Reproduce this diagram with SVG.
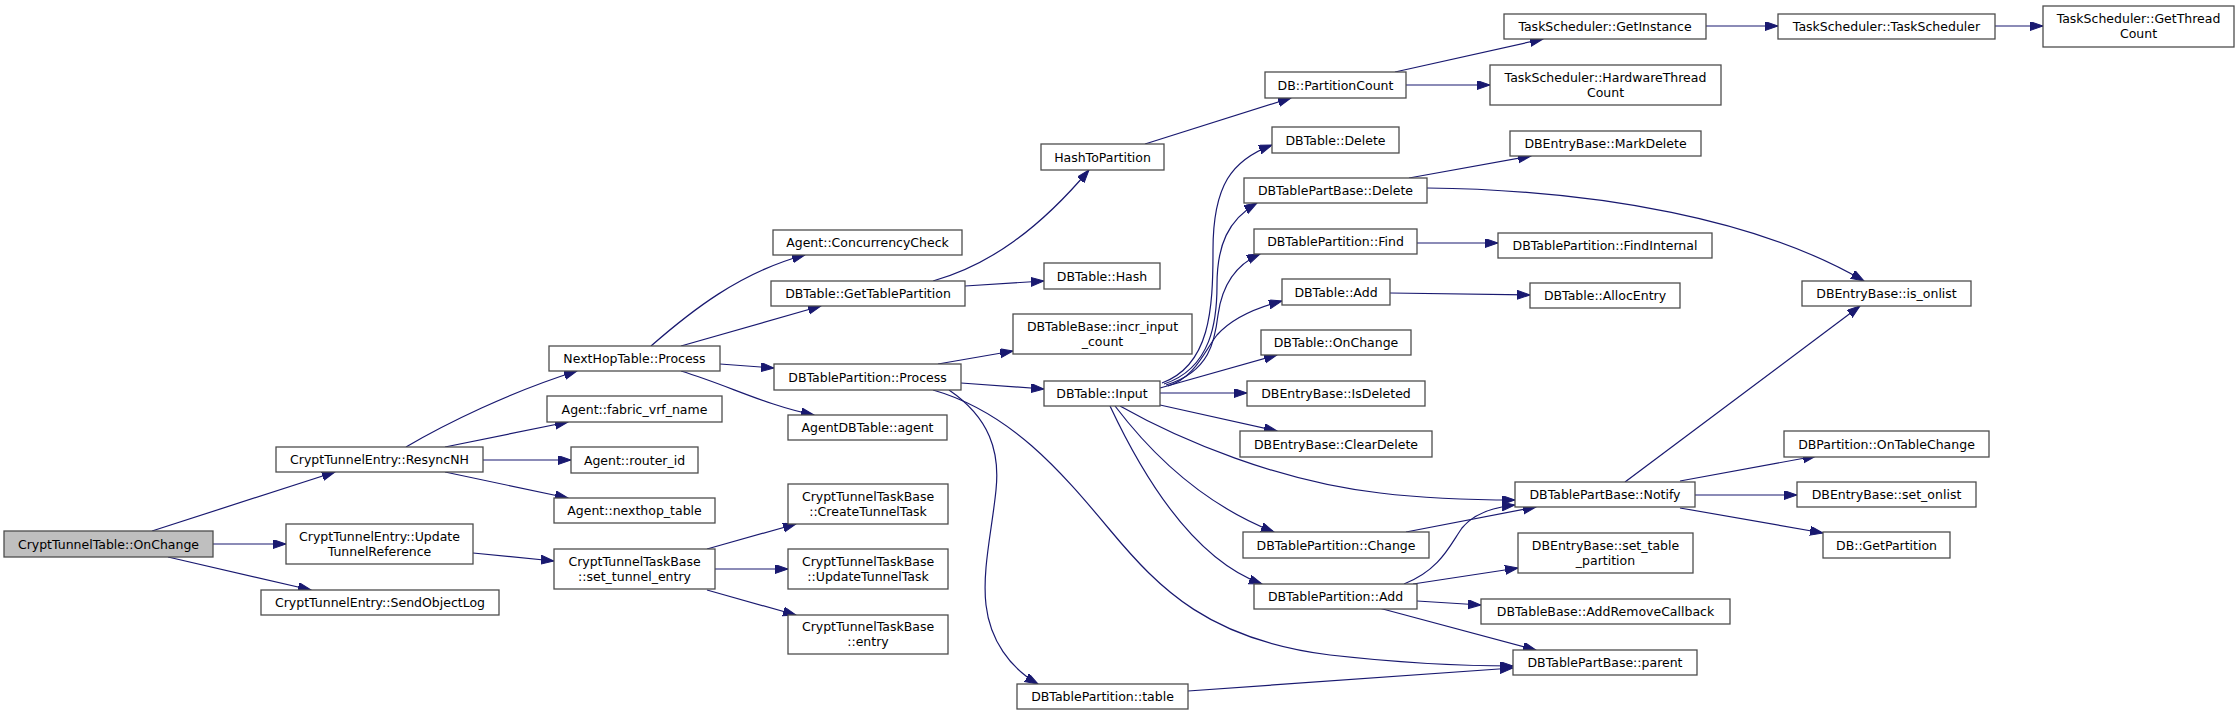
<svg xmlns="http://www.w3.org/2000/svg" width="2240" height="716" viewBox="0 0 2240 716">
<style>
.node rect{fill:#ffffff;stroke:#4d4d4d;stroke-width:1.3}
.node.root rect{fill:#bfbfbf}
.node text{font-family:"DejaVu Sans","Liberation Sans",sans-serif;font-size:12.5px;fill:#000000;text-anchor:middle}
.edges path{fill:none;stroke:#191970;stroke-width:1.2;marker-end:url(#ah)}
</style>
<defs>
<marker id="ah" markerWidth="14" markerHeight="10" refX="13" refY="4.5" orient="auto" markerUnits="userSpaceOnUse"><path d="M0,0 L13,4.5 L0,9 z" fill="#191970" stroke="#191970" stroke-width="1"/></marker>
</defs>
<rect width="2240" height="716" fill="#ffffff"/>
<g class="edges">
<path d="M152,531 L335,472"/>
<path d="M213,544 L286,544"/>
<path d="M168,557 L311,590"/>
<path d="M406,447 C445,424 510,392 577,371"/>
<path d="M445,447 L568,422"/>
<path d="M483,460 L571,460"/>
<path d="M445,472 L568,498"/>
<path d="M473,553 L554,561"/>
<path d="M707,549 L796,524"/>
<path d="M715,569 L788,569"/>
<path d="M707,590 L796,615"/>
<path d="M651,346 C690,312 740,272 805,255"/>
<path d="M681,346 L821,306"/>
<path d="M720,364 L774,368"/>
<path d="M681,371 C730,386 765,405 814,415"/>
<path d="M933,281 C990,265 1040,228 1089,170"/>
<path d="M965,286 L1044,281"/>
<path d="M1145,144 L1291,98"/>
<path d="M1395,72 L1543,39"/>
<path d="M1406,85 L1490,85"/>
<path d="M1706,26 L1778,26"/>
<path d="M1995,26 L2043,26"/>
<path d="M938,364 L1013,351"/>
<path d="M961,383 L1044,389"/>
<path d="M949,390 C990,418 1000,452 996,490 C992,530 982,570 986,605 C990,640 1010,668 1038,684"/>
<path d="M933,390 C1010,412 1060,470 1110,530 C1160,590 1210,640 1330,655 C1400,663 1460,666 1513,666"/>
<path d="M1188,691 L1513,668"/>
<path d="M1162,383 C1210,365 1213,310 1213,250 C1213,185 1232,160 1272,145"/>
<path d="M1164,384 C1212,368 1217,320 1217,285 C1217,245 1228,220 1257,203"/>
<path d="M1166,385 C1210,372 1215,340 1218,315 C1222,285 1235,265 1260,254"/>
<path d="M1168,386 C1195,378 1205,350 1217,335 C1232,318 1255,308 1282,301"/>
<path d="M1160,388 L1277,355"/>
<path d="M1160,393 L1247,393"/>
<path d="M1160,405 L1277,431"/>
<path d="M1120,406 C1180,440 1280,482 1380,493 C1430,499 1470,500 1515,500"/>
<path d="M1115,406 C1150,452 1200,503 1274,532"/>
<path d="M1110,406 C1140,470 1190,558 1262,584"/>
<path d="M1409,178 L1531,156"/>
<path d="M1427,188 C1600,190 1760,220 1864,281"/>
<path d="M1417,243 L1498,243"/>
<path d="M1390,293 L1530,295"/>
<path d="M1625,482 L1860,306"/>
<path d="M1680,481 L1816,456"/>
<path d="M1695,495 L1797,495"/>
<path d="M1680,508 L1823,533"/>
<path d="M1406,532 L1536,507"/>
<path d="M1404,584 C1440,570 1450,545 1462,528 C1475,512 1495,507 1515,505"/>
<path d="M1413,584 L1518,568"/>
<path d="M1417,601 L1481,605"/>
<path d="M1379,608 L1536,650"/>
</g>
<g id="n0" class="node root"><rect x="4" y="531" width="209" height="26"/><text x="108.5" y="548.5">CryptTunnelTable::OnChange</text></g>
<g id="n1" class="node"><rect x="276" y="447" width="207" height="25"/><text x="379.5" y="464">CryptTunnelEntry::ResyncNH</text></g>
<g id="n2" class="node"><rect x="286" y="524" width="187" height="40"/><text x="379.5" y="540.5">CryptTunnelEntry::Update</text><text x="379.5" y="555.5">TunnelReference</text></g>
<g id="n3" class="node"><rect x="261" y="590" width="238" height="25"/><text x="380" y="607">CryptTunnelEntry::SendObjectLog</text></g>
<g id="n4" class="node"><rect x="549" y="346" width="171" height="25"/><text x="634.5" y="363">NextHopTable::Process</text></g>
<g id="n5" class="node"><rect x="547" y="396" width="175" height="26"/><text x="634.5" y="413.5">Agent::fabric_vrf_name</text></g>
<g id="n6" class="node"><rect x="571" y="447" width="127" height="26"/><text x="634.5" y="464.5">Agent::router_id</text></g>
<g id="n7" class="node"><rect x="554" y="498" width="161" height="25"/><text x="634.5" y="515">Agent::nexthop_table</text></g>
<g id="n8" class="node"><rect x="554" y="549" width="161" height="40"/><text x="634.5" y="565.5">CryptTunnelTaskBase</text><text x="634.5" y="580.5">::set_tunnel_entry</text></g>
<g id="n9" class="node"><rect x="773" y="230" width="189" height="25"/><text x="867.5" y="247">Agent::ConcurrencyCheck</text></g>
<g id="n10" class="node"><rect x="771" y="281" width="194" height="25"/><text x="868" y="298">DBTable::GetTablePartition</text></g>
<g id="n11" class="node"><rect x="774" y="364" width="187" height="26"/><text x="867.5" y="381.5">DBTablePartition::Process</text></g>
<g id="n12" class="node"><rect x="788" y="415" width="159" height="25"/><text x="867.5" y="432">AgentDBTable::agent</text></g>
<g id="n13" class="node"><rect x="788" y="484" width="160" height="40"/><text x="868" y="500.5">CryptTunnelTaskBase</text><text x="868" y="515.5">::CreateTunnelTask</text></g>
<g id="n14" class="node"><rect x="788" y="549" width="160" height="40"/><text x="868" y="565.5">CryptTunnelTaskBase</text><text x="868" y="580.5">::UpdateTunnelTask</text></g>
<g id="n15" class="node"><rect x="788" y="615" width="160" height="39"/><text x="868" y="631">CryptTunnelTaskBase</text><text x="868" y="646">::entry</text></g>
<g id="n16" class="node"><rect x="1041" y="144" width="123" height="26"/><text x="1102.5" y="161.5">HashToPartition</text></g>
<g id="n17" class="node"><rect x="1044" y="263" width="116" height="26"/><text x="1102" y="280.5">DBTable::Hash</text></g>
<g id="n18" class="node"><rect x="1013" y="314" width="179" height="40"/><text x="1102.5" y="330.5">DBTableBase::incr_input</text><text x="1102.5" y="345.5">_count</text></g>
<g id="n19" class="node"><rect x="1044" y="381" width="116" height="25"/><text x="1102" y="398">DBTable::Input</text></g>
<g id="n20" class="node"><rect x="1017" y="684" width="171" height="25"/><text x="1102.5" y="701">DBTablePartition::table</text></g>
<g id="n21" class="node"><rect x="1265" y="72" width="141" height="26"/><text x="1335.5" y="89.5">DB::PartitionCount</text></g>
<g id="n22" class="node"><rect x="1272" y="127" width="127" height="26"/><text x="1335.5" y="144.5">DBTable::Delete</text></g>
<g id="n23" class="node"><rect x="1244" y="178" width="183" height="25"/><text x="1335.5" y="195">DBTablePartBase::Delete</text></g>
<g id="n24" class="node"><rect x="1254" y="229" width="163" height="25"/><text x="1335.5" y="246">DBTablePartition::Find</text></g>
<g id="n25" class="node"><rect x="1282" y="279" width="108" height="26"/><text x="1336" y="296.5">DBTable::Add</text></g>
<g id="n26" class="node"><rect x="1261" y="330" width="150" height="25"/><text x="1336" y="347">DBTable::OnChange</text></g>
<g id="n27" class="node"><rect x="1247" y="381" width="178" height="25"/><text x="1336" y="398">DBEntryBase::IsDeleted</text></g>
<g id="n28" class="node"><rect x="1240" y="431" width="192" height="26"/><text x="1336" y="448.5">DBEntryBase::ClearDelete</text></g>
<g id="n29" class="node"><rect x="1243" y="532" width="186" height="26"/><text x="1336" y="549.5">DBTablePartition::Change</text></g>
<g id="n30" class="node"><rect x="1254" y="584" width="163" height="25"/><text x="1335.5" y="601">DBTablePartition::Add</text></g>
<g id="n31" class="node"><rect x="1504" y="14" width="202" height="25"/><text x="1605" y="31">TaskScheduler::GetInstance</text></g>
<g id="n32" class="node"><rect x="1490" y="65" width="231" height="40"/><text x="1605.5" y="81.5">TaskScheduler::HardwareThread</text><text x="1605.5" y="96.5">Count</text></g>
<g id="n33" class="node"><rect x="1510" y="131" width="191" height="25"/><text x="1605.5" y="148">DBEntryBase::MarkDelete</text></g>
<g id="n34" class="node"><rect x="1498" y="233" width="214" height="25"/><text x="1605" y="250">DBTablePartition::FindInternal</text></g>
<g id="n35" class="node"><rect x="1530" y="283" width="150" height="25"/><text x="1605" y="300">DBTable::AllocEntry</text></g>
<g id="n36" class="node"><rect x="1515" y="482" width="180" height="25"/><text x="1605" y="499">DBTablePartBase::Notify</text></g>
<g id="n37" class="node"><rect x="1518" y="533" width="175" height="40"/><text x="1605.5" y="549.5">DBEntryBase::set_table</text><text x="1605.5" y="564.5">_partition</text></g>
<g id="n38" class="node"><rect x="1481" y="599" width="249" height="25"/><text x="1605.5" y="616">DBTableBase::AddRemoveCallback</text></g>
<g id="n39" class="node"><rect x="1513" y="650" width="184" height="25"/><text x="1605" y="667">DBTablePartBase::parent</text></g>
<g id="n40" class="node"><rect x="1778" y="14" width="217" height="25"/><text x="1886.5" y="31">TaskScheduler::TaskScheduler</text></g>
<g id="n41" class="node"><rect x="2043" y="6" width="191" height="41"/><text x="2138.5" y="23">TaskScheduler::GetThread</text><text x="2138.5" y="38">Count</text></g>
<g id="n42" class="node"><rect x="1802" y="281" width="169" height="25"/><text x="1886.5" y="298">DBEntryBase::is_onlist</text></g>
<g id="n43" class="node"><rect x="1784" y="431" width="205" height="26"/><text x="1886.5" y="448.5">DBPartition::OnTableChange</text></g>
<g id="n44" class="node"><rect x="1797" y="482" width="179" height="25"/><text x="1886.5" y="499">DBEntryBase::set_onlist</text></g>
<g id="n45" class="node"><rect x="1823" y="532" width="127" height="26"/><text x="1886.5" y="549.5">DB::GetPartition</text></g>
</svg>
